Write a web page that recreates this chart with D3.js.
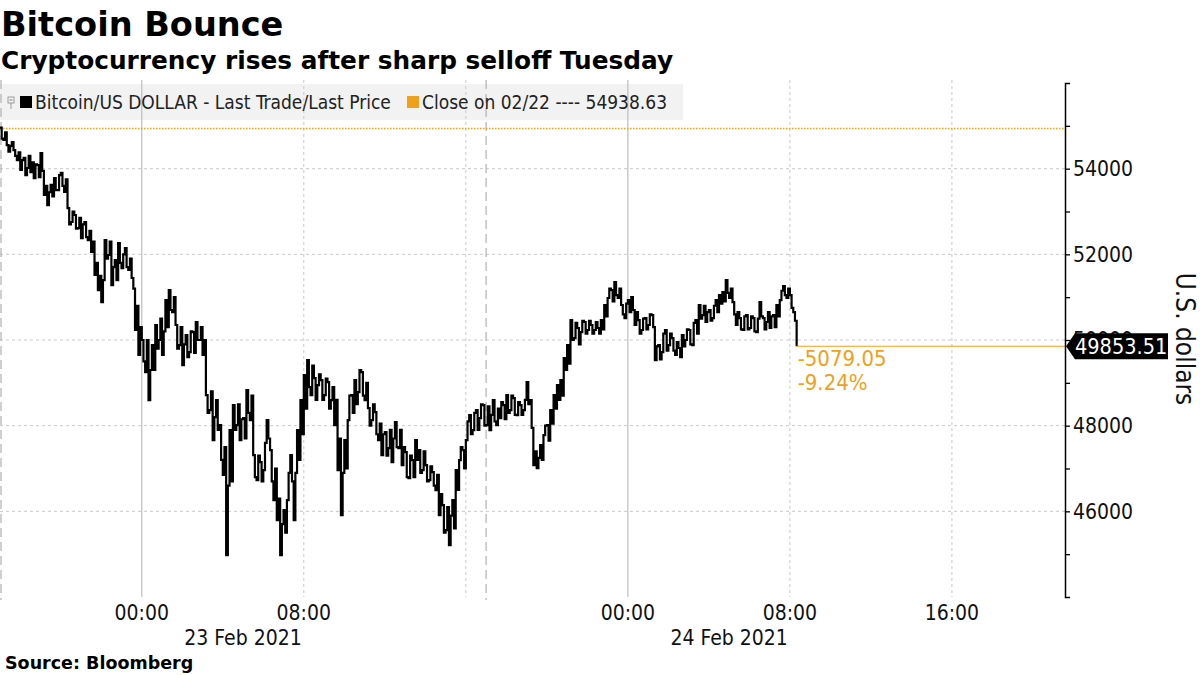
<!DOCTYPE html>
<html>
<head>
<meta charset="utf-8">
<script src="https://cdn.jsdelivr.net/npm/d3@7"></script>
<style>
  html, body { margin: 0; padding: 0; background: #fff; }
  svg { display: block; }
  .cond { font-family: "DejaVu Sans Condensed", "DejaVu Sans", sans-serif; font-stretch: condensed; }
  .bold { font-family: "DejaVu Sans", Verdana, sans-serif; font-weight: bold; }
</style>
</head>
<body>
<svg id="chart" width="1200" height="675"></svg>
<script>
// ---------------- DATA ----------------
const titleText = "Bitcoin Bounce";
const subtitleText = "Cryptocurrency rises after sharp selloff Tuesday";
const sourceText = "Source: Bloomberg";
const seriesName = "Bitcoin/US DOLLAR - Last Trade/Last Price";
const closeLabel = "Close on 02/22 ---- 54938.63";
const yAxisTitle = "U.S. dollars";

const closeValue = 54938.63;
const lastValue = 49853.51;
const changeLabels = ["-5079.05", "-9.24%"];

// Bars every 10 minutes starting 22 Feb 2021 17:00:
// "prices" = level at the start of each bar, "swings" = opposite intrabar extreme
const seriesStart = "2021-02-22T17:00:00Z";
const stepMinutes = 10;
const prices = [
  54960, 54670, 54550, 54530, 54435, 54200, 53970, 54250, 54015, 53920,
  53780, 54085, 54365, 53385, 53150, 53620, 53780, 53500, 53900, 53455,
  53080, 52755, 52918, 52614, 52380, 52755, 52334, 52054, 51517, 51166,
  50886, 52334, 51984, 51283, 51867, 52264, 51680, 52147, 51634, 51447,
  50233, 49650, 50000, 49252, 48598, 49882, 50350, 50000, 49650, 50933,
  51166, 50653, 50350, 49882, 49415, 50116, 49719, 50186, 50420, 50000,
  49650, 48715, 48365, 47664, 48598, 48014, 46850, 44979, 47897, 48481,
  48014, 47664, 48178, 48832, 48131, 47314, 46730, 47150, 46964, 48131,
  47431, 46263, 45796, 44979, 46030, 46263, 47314, 45796, 47897, 48598,
  49182, 49532, 48715, 49112, 48948, 49065, 48715, 49018, 48598, 48014,
  46964, 45913, 47664, 48131, 48715, 49065, 48785, 49252, 48598, 48411,
  48131, 48318, 47664, 47314, 47851, 47477, 47150, 48084, 47477, 47080,
  47384, 46777, 47197, 47664, 47431, 46964, 47080, 46730, 46917, 46497,
  45913, 46146, 45563, 45212, 46263, 46964, 47197, 47431, 47664, 48248,
  47897, 48365, 48178, 48481, 48014, 47897, 48598, 48014, 48178, 48481,
  48715, 48365, 48645, 48248, 48481, 48365, 49018, 48598, 47080, 47010,
  47547, 47781, 48014, 48365, 48715, 48948, 49065, 49579, 49882, 50466,
  50046, 50280, 50186, 50420, 50233, 50350, 50233, 50280, 50466, 50817,
  50980, 51166, 51354, 50980, 50817, 50513, 50933, 51003, 50350, 50466,
  50233, 50513, 50350, 50583, 49532, 49882, 49719, 50233, 49882, 50046,
  49650, 49813, 50116, 50000, 50233, 49882, 50466, 50817, 50583, 50420,
  50700, 50513, 50933, 51050, 51120, 51400, 50980, 50886, 50350, 50513,
  50233, 50583, 50280, 50513, 50186, 50886, 50513, 50420, 50280, 50583,
  50817, 50933, 51260, 50980, 51050, 50653, 49853.51
];
const swings = [
  54700, 54850, 54400, 54620, 54300, 54380, 54200, 53850, 54300, 54150,
  54100, 53800, 53950, 53600, 53450, 53350, 53500, 53850, 53600, 53750,
  52700, 53000, 52600, 52850, 52700, 52400, 52550, 52300, 51800, 51500,
  51400, 51900, 52300, 51700, 51400, 51800, 52000, 51700, 51900, 51200,
  50800, 50300, 49500, 50000, 49300, 49300, 49800, 50500, 50200, 50300,
  50700, 51000, 49800, 50300, 49900, 49600, 50200, 49700, 50000, 50300,
  50000, 48300, 48800, 48200, 47900, 47200, 47500, 46600, 46700, 47900,
  48500, 48150, 47700, 48300, 48700, 46800, 47300, 46700, 47600, 47700,
  46700, 47000, 46300, 45700, 45500, 46900, 46700, 46900, 47200, 47800,
  48400, 48900, 49400, 48600, 49200, 48600, 49100, 48400, 48900, 48600,
  47700, 46900, 47000, 48700, 48300, 48500, 49300, 48700, 49000, 48000,
  48500, 47800, 48050, 47800, 47300, 47900, 47700, 47500, 47900, 47500,
  46800, 47300, 46800, 47200, 46900, 47400, 46700, 47050, 46600, 46850,
  46400, 45500, 46100, 45900, 45600, 46500, 47500, 47000, 48100, 47800,
  48300, 47900, 48500, 48000, 48450, 48250, 48100, 48400, 48550, 48150,
  48300, 48700, 48250, 48550, 48250, 48600, 48500, 47950, 47400, 47250,
  47200, 48000, 47650, 48050, 48400, 48600, 48700, 49300, 49450, 50000,
  50400, 49900, 50450, 50150, 50450, 50150, 50420, 50150, 50250, 50550,
  51200, 50900, 51050, 51200, 50600, 50850, 50650, 50700, 50650, 50150,
  50500, 50250, 50600, 50300, 49850, 49550, 50150, 49750, 50150, 49750,
  49950, 49600, 49850, 50250, 49900, 50400, 50150, 50500, 50800, 50650,
  50450, 50800, 50650, 50850, 50900, 51100, 51200, 50600, 50650, 50250,
  50550, 50250, 50550, 50200, 50500, 50550, 50250, 50650, 50550, 50300,
  50550, 51150, 51050, 51200, 50750, 50450, 49853.51
];

const xDomain = ["2021-02-22T17:00:00Z", "2021-02-24T21:35:00Z"];
const yDomain = [44000, 56000];
const yMajorTicks = [46000, 48000, 50000, 52000, 54000];
const yMinorTicks = [45000, 47000, 49000, 51000, 53000, 55000];

const xTickTimes = ["2021-02-23T00:00:00Z", "2021-02-23T08:00:00Z", "2021-02-23T16:00:00Z",
                    "2021-02-24T00:00:00Z", "2021-02-24T08:00:00Z", "2021-02-24T16:00:00Z"];
const xTickLabels = ["00:00", "08:00", "", "00:00", "08:00", "16:00"];
const midnightTimes = ["2021-02-23T00:00:00Z", "2021-02-24T00:00:00Z"];
const sessionBreaks = ["2021-02-22T17:00:00Z", "2021-02-23T17:00:00Z"];
const dateLabelTimes = ["2021-02-23T05:00:00Z", "2021-02-24T05:00:00Z"];
const dateLabels = ["23 Feb 2021", "24 Feb 2021"];

// ---------------- LAYOUT ----------------
const W = 1200, H = 675;
const plot = { left: 0, right: 1065, top: 83, bottom: 597 };
const orange = "#f0a01a";

const svg = d3.select("#chart");

const x = d3.scaleUtc()
  .domain(xDomain.map(d => new Date(d)))
  .range([plot.left, plot.right]);
const y = d3.scaleLinear().domain(yDomain).range([plot.bottom, plot.top]);

const t0 = new Date(seriesStart).getTime();
const stepMs = stepMinutes * 60000;
const data = [];
prices.forEach((v, i) => {
  data.push({ t: new Date(t0 + i * stepMs), v });
  if (i < prices.length - 1) data.push({ t: new Date(t0 + i * stepMs + stepMs / 2), v: swings[i] });
});

// Titles
svg.append("text").attr("class", "bold").attr("x", 1).attr("y", 36)
  .attr("font-size", 33.6).attr("fill", "#000").text(titleText);
svg.append("text").attr("class", "bold").attr("x", 1).attr("y", 69)
  .attr("font-size", 24.8).attr("fill", "#000").text(subtitleText);

// Legend background
svg.append("rect").attr("x", 0).attr("y", 84).attr("width", 683).attr("height", 36)
  .attr("fill", "#f2f2f2");

// Horizontal grid
svg.append("g").selectAll("line").data(yMajorTicks).join("line")
  .attr("x1", plot.left).attr("x2", plot.right)
  .attr("y1", d => y(d)).attr("y2", d => y(d))
  .attr("stroke", "#c8c8c8").attr("stroke-width", 1).attr("stroke-dasharray", "3,3");

// Vertical grid: 8h ticks (dotted), midnights (solid), session breaks (dashed)
svg.append("g").selectAll("line").data(xTickTimes.filter(d => !midnightTimes.includes(d))).join("line")
  .attr("x1", d => x(new Date(d))).attr("x2", d => x(new Date(d)))
  .attr("y1", plot.top - 3).attr("y2", plot.bottom)
  .attr("stroke", "#c8c8c8").attr("stroke-dasharray", "3,3");
svg.append("g").selectAll("line").data(midnightTimes).join("line")
  .attr("x1", d => x(new Date(d))).attr("x2", d => x(new Date(d)))
  .attr("y1", plot.top - 3).attr("y2", plot.bottom)
  .attr("stroke", "#bdbdbd").attr("stroke-width", 1.2);
svg.append("g").selectAll("line").data(sessionBreaks).join("line")
  .attr("x1", d => Math.max(1, x(new Date(d)))).attr("x2", d => Math.max(1, x(new Date(d))))
  .attr("y1", plot.top - 3).attr("y2", plot.bottom + 3)
  .attr("stroke", "#b0b0b0").attr("stroke-width", 1.2).attr("stroke-dasharray", "9,5");

// Legend contents
const lg = svg.append("g");
lg.append("rect").attr("x", 8).attr("y", 97).attr("width", 6).attr("height", 6)
  .attr("fill", "none").attr("stroke", "#888").attr("stroke-width", 0.8);
lg.append("line").attr("x1", 9.5).attr("x2", 12.5).attr("y1", 100).attr("y2", 100)
  .attr("stroke", "#666").attr("stroke-width", 0.8);
lg.append("line").attr("x1", 11).attr("x2", 11).attr("y1", 103).attr("y2", 109)
  .attr("stroke", "#888").attr("stroke-width", 0.8);
lg.append("rect").attr("x", 20).attr("y", 96).attr("width", 12).attr("height", 12).attr("fill", "#000");
lg.append("text").attr("class", "cond").attr("x", 35).attr("y", 109)
  .attr("font-size", 19).attr("fill", "#222").text(seriesName);
lg.append("rect").attr("x", 407).attr("y", 96).attr("width", 12).attr("height", 12).attr("fill", orange);
lg.append("text").attr("class", "cond").attr("x", 422).attr("y", 109)
  .attr("font-size", 19).attr("fill", "#222").text(closeLabel);

// Close reference line (dotted)
svg.append("line")
  .attr("x1", plot.left).attr("x2", plot.right)
  .attr("y1", y(closeValue)).attr("y2", y(closeValue))
  .attr("stroke", orange).attr("stroke-width", 1.6).attr("stroke-dasharray", "1.5,1.5");

// Price line
const line = d3.line().x(d => x(d.t)).y(d => y(d.v)).curve(d3.curveStepAfter);
svg.append("path").datum(data)
  .attr("d", line).attr("fill", "none").attr("stroke", "#000")
  .attr("stroke-width", 2.2).attr("stroke-linejoin", "miter");

// Last value line
const lastT = data[data.length - 1].t;
svg.append("line")
  .attr("x1", x(lastT)).attr("x2", plot.right)
  .attr("y1", y(lastValue)).attr("y2", y(lastValue))
  .attr("stroke", orange).attr("stroke-width", 1.2);

// Change annotation
changeLabels.forEach((t, i) => {
  svg.append("text").attr("class", "cond").attr("x", x(lastT) + 1).attr("y", y(lastValue) + 20 + i * 24)
    .attr("font-size", 22).attr("fill", orange).text(t);
});

// Right axis
const yAxis = d3.axisRight(y).tickValues(yMajorTicks).tickSize(5).tickSizeOuter(5)
  .tickPadding(3).tickFormat(d3.format("d"));
const ga = svg.append("g").attr("transform", `translate(${plot.right},0)`).call(yAxis);
ga.select(".domain").attr("stroke", "#000").attr("stroke-width", 1.5);
ga.selectAll(".tick line").attr("stroke", "#000").attr("stroke-width", 1.3);
ga.selectAll(".tick text").attr("class", "cond").attr("font-size", 21).attr("fill", "#111")
  .attr("font-family", null);
const gm = svg.append("g").attr("transform", `translate(${plot.right},0)`)
  .call(d3.axisRight(y).tickValues(yMinorTicks).tickSize(5).tickFormat(""));
gm.select(".domain").remove();
gm.selectAll(".tick line").attr("stroke", "#000").attr("stroke-width", 1.3);

// Last-price tag
const ty = y(lastValue);
const tag = svg.append("g");
tag.append("path")
  .attr("d", `M${plot.right + 1},${ty} L${plot.right + 10},${ty - 13} L${plot.right + 103},${ty - 13} L${plot.right + 103},${ty + 13} L${plot.right + 10},${ty + 13} Z`)
  .attr("fill", "#000");
tag.append("text").attr("class", "cond").attr("x", plot.right + 10).attr("y", ty + 8)
  .attr("font-size", 21.5).attr("fill", "#fff").text(d3.format(".2f")(lastValue));

// Axis title
svg.append("text").attr("class", "cond")
  .attr("transform", `translate(1176,${(plot.top + plot.bottom) / 2 - 1}) rotate(90)`)
  .attr("text-anchor", "middle").attr("font-size", 26).attr("fill", "#111").text(yAxisTitle);

// X tick labels
svg.append("g").selectAll("text").data(xTickTimes.map((d, i) => ({ d, l: xTickLabels[i] })).filter(o => o.l)).join("text")
  .attr("class", "cond").attr("x", o => x(new Date(o.d))).attr("y", 620)
  .attr("text-anchor", "middle").attr("font-size", 21).attr("fill", "#111").text(o => o.l);
svg.append("g").selectAll("text").data(dateLabelTimes.map((d, i) => ({ d, l: dateLabels[i] }))).join("text")
  .attr("class", "cond").attr("x", o => x(new Date(o.d))).attr("y", 645)
  .attr("text-anchor", "middle").attr("font-size", 21).attr("fill", "#111").text(o => o.l);

// Source
svg.append("text").attr("class", "bold").attr("x", 5).attr("y", 669)
  .attr("font-size", 17.5).attr("fill", "#000").text(sourceText);
</script>
</body>
</html>
